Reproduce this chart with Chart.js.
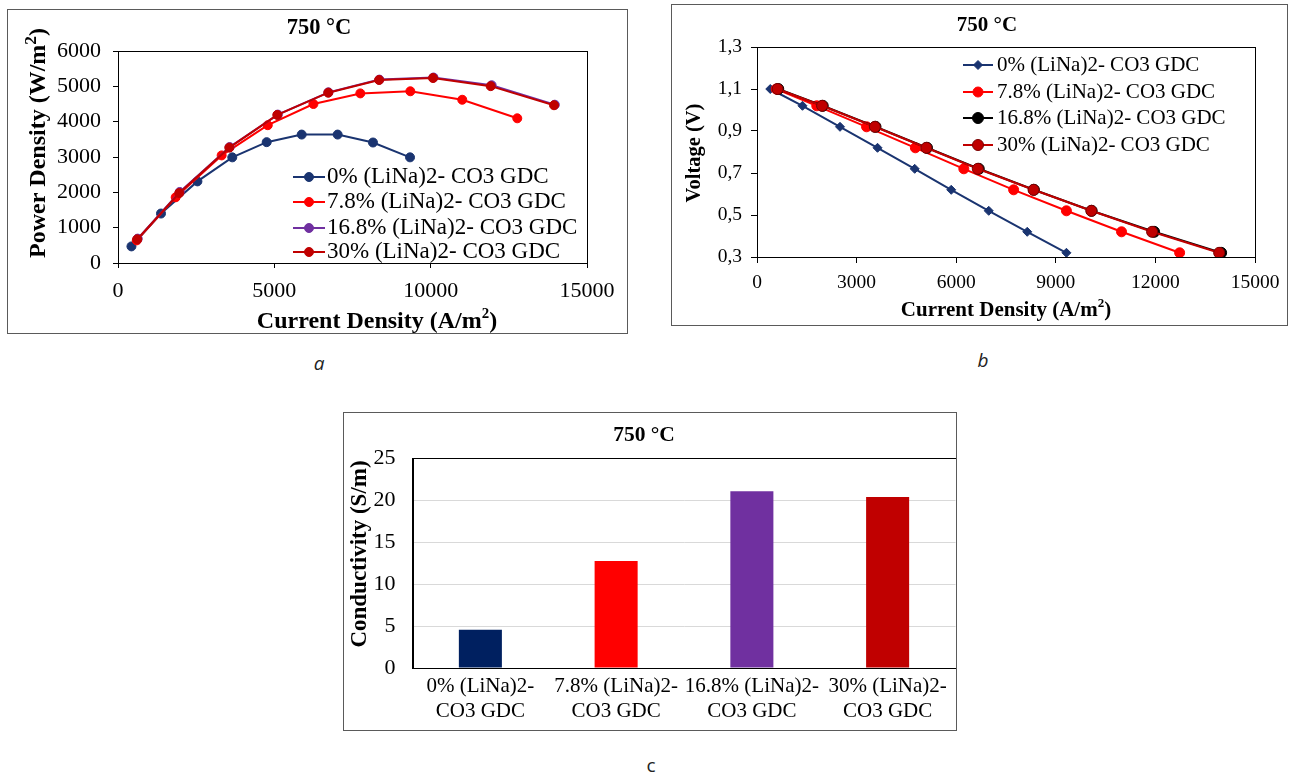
<!DOCTYPE html>
<html><head><meta charset="utf-8">
<script src="https://cdn.jsdelivr.net/npm/chart.js@4.4.0/dist/chart.umd.min.js"></script>
<style>
body{margin:0;background:#fff;width:1290px;height:773px;position:relative;overflow:hidden;}
.frame{position:absolute;border:1px solid #5a5a5a;box-sizing:border-box;background:#fff;}
.frame canvas{display:block;}
.lab{position:absolute;font-family:'Open Sans',sans-serif;font-size:19px;color:#222;transform:translate(-50%,-50%);}
</style></head><body>
<div class="frame" style="left:7px;top:9px;width:621px;height:325px"><canvas id="ca" width="619" height="323"></canvas></div>
<div class="frame" style="left:671px;top:4px;width:617px;height:322px"><canvas id="cb" width="615" height="320"></canvas></div>
<div class="frame" style="left:343px;top:412px;width:614px;height:319px"><canvas id="cc" width="612" height="317"></canvas></div>
<div class="lab" style="left:319px;top:363px;font-style:italic">a</div>
<div class="lab" style="left:983px;top:360px;font-style:italic">b</div>
<div class="lab" style="left:651px;top:765px">c</div>
<script>
// ---------- data ----------
const chartTitle = '750 °C';
const seriesNames = ['0% (LiNa)2- CO3 GDC', '7.8% (LiNa)2- CO3 GDC', '16.8% (LiNa)2- CO3 GDC', '30% (LiNa)2- CO3 GDC'];

// (a) power density vs current density
const pd0_I   = [430, 1375, 2540, 3655, 4755, 5875, 7025, 8155, 9340];
const pd0_P   = [470, 1400, 2310, 2990, 3420, 3635, 3635, 3410, 2990];
const pd78_I  = [600, 1845, 3315, 4790, 6250, 7750, 9350, 11010, 12770];
const pd78_P  = [640, 1860, 3045, 3900, 4500, 4800, 4860, 4620, 4095];
const pd168_I = [630, 1975, 3570, 5110, 6730, 8360, 10090, 11950, 13970];
const pd168_P = [690, 2010, 3280, 4200, 4830, 5190, 5250, 5030, 4480];
const pd30_I  = [615, 1960, 3560, 5095, 6725, 8350, 10075, 11920, 13945];
const pd30_P  = [670, 1980, 3265, 4190, 4820, 5180, 5235, 5005, 4465];
const aXTicks = [0, 5000, 10000, 15000];
const aYTicks = [0, 1000, 2000, 3000, 4000, 5000, 6000];

// (b) voltage vs current density
const v0_I   = [400, 1370, 2500, 3630, 4750, 5850, 6980, 8140, 9320];
const v0_V   = [1.10, 1.02, 0.92, 0.82, 0.72, 0.62, 0.52, 0.42, 0.32];
const v78_I  = [580, 1800, 3300, 4770, 6230, 7730, 9320, 10980, 12730];
const v78_V  = [1.10, 1.02, 0.92, 0.82, 0.72, 0.62, 0.52, 0.42, 0.32];
const v168_I = [640, 1980, 3570, 5120, 6680, 8340, 10080, 11960, 13980];
const v168_V = [1.10, 1.02, 0.92, 0.82, 0.72, 0.62, 0.52, 0.42, 0.32];
const v30_I  = [620, 1960, 3550, 5100, 6650, 8330, 10070, 11900, 13920];
const v30_V  = [1.10, 1.02, 0.92, 0.82, 0.72, 0.62, 0.52, 0.42, 0.32];
const bXTicks = [0, 3000, 6000, 9000, 12000, 15000];
const bYTicks = ['0,3', '0,5', '0,7', '0,9', '1,1', '1,3'];

// (c) conductivity
const cCategories = [['0% (LiNa)2-', 'CO3 GDC'], ['7.8% (LiNa)2-', 'CO3 GDC'], ['16.8% (LiNa)2-', 'CO3 GDC'], ['30% (LiNa)2-', 'CO3 GDC']];
const cValues = [4.55, 12.75, 21.05, 20.35];
const cYTicks = [0, 5, 10, 15, 20, 25];

// ---------- styling ----------
const SERIF = '"Liberation Serif", "Times New Roman", serif';
const NAVY = '#1A3470', RED = '#FF0000', PURPLE = '#7030A0', DKRED = '#C00000', BLACK = '#000000';
const barColors = ['#002060', '#FF0000', '#7030A0', '#C00000'];

function pts(xs, ys) { return xs.map((x, i) => ({ x, y: ys[i] })); }

function drawRich(ctx, it) {
  const base = it.size, supScale = it.supScale || 0.62;
  ctx.save();
  ctx.translate(it.x, it.y);
  if (it.rot) ctx.rotate(it.rot);
  const ms = []; let total = 0;
  for (const p of it.parts) {
    const sz = p.sup ? base * supScale : base;
    ctx.font = (it.bold ? 'bold ' : '') + sz + 'px ' + SERIF;
    const w = ctx.measureText(p.t).width;
    ms.push({ p, sz, w }); total += w;
  }
  let x = -total / 2;
  ctx.textBaseline = 'middle'; ctx.textAlign = 'left'; ctx.fillStyle = '#000';
  for (const m of ms) {
    ctx.font = (it.bold ? 'bold ' : '') + m.sz + 'px ' + SERIF;
    ctx.fillText(m.p.t, x, m.p.sup ? -base * 0.33 : 0);
    x += m.w;
  }
  ctx.restore();
}

function drawMarker(ctx, style, x, y, r, fill, stroke) {
  ctx.beginPath();
  if (style === 'rectRot') {
    ctx.moveTo(x, y - r); ctx.lineTo(x + r, y); ctx.lineTo(x, y + r); ctx.lineTo(x - r, y); ctx.closePath();
  } else {
    ctx.arc(x, y, r, 0, Math.PI * 2);
  }
  ctx.fillStyle = fill; ctx.fill();
  ctx.lineWidth = 1; ctx.strokeStyle = stroke; ctx.stroke();
}

const deco = {
  id: 'deco',
  afterDraw(chart, args, o) {
    const ctx = chart.ctx, a = chart.chartArea;
    ctx.save();
    ctx.strokeStyle = '#000'; ctx.lineWidth = 1;
    ctx.strokeRect(Math.round(a.left) + 0.5, Math.round(a.top) + 0.5, Math.round(a.right - a.left), Math.round(a.bottom - a.top));
    (o.texts || []).forEach(t => drawRich(ctx, t));
    if (o.legend) {
      const L = o.legend;
      chart.data.datasets.forEach((ds, i) => {
        const y = L.rows[i];
        ctx.strokeStyle = ds.borderColor; ctx.lineWidth = ds.borderWidth || 2;
        ctx.beginPath(); ctx.moveTo(L.x0, y); ctx.lineTo(L.x1, y); ctx.stroke();
        drawMarker(ctx, ds.pointStyle, (L.x0 + L.x1) / 2, y, ds.pointRadius, ds.pointBackgroundColor, ds.pointBorderColor);
        ctx.font = L.size + 'px ' + SERIF; ctx.fillStyle = '#000';
        ctx.textBaseline = 'middle'; ctx.textAlign = 'left';
        ctx.fillText(ds.label, L.tx, y);
      });
    }
    ctx.restore();
  }
};

function ds(label, data, color, style, r, border, order) {
  return { label, data, showLine: true, borderColor: color, backgroundColor: color, borderWidth: 2,
    pointStyle: style, pointRadius: r, pointHoverRadius: r, pointBackgroundColor: color,
    pointBorderColor: border || color, pointBorderWidth: 1, order, tension: 0 };
}

function linAxis(min, max, step, labels, fsize, tl, pad, fitKey, fitVal) {
  return {
    type: 'linear', min, max,
    ticks: { stepSize: step, font: { family: SERIF, size: fsize }, color: '#000', padding: pad, maxRotation: 0, autoSkip: false,
      callback: (v, i) => labels[i] !== undefined ? String(labels[i]) : '' },
    grid: { drawOnChartArea: false, drawTicks: true, tickLength: tl, tickColor: '#000', tickWidth: 1 },
    border: { display: true, color: '#000', width: 1 },
    afterFit: s => { s[fitKey] = fitVal; s.paddingLeft = 0; s.paddingRight = 0; s.paddingTop = 0; s.paddingBottom = 0; }
  };
}

const common = { responsive: false, animation: false, devicePixelRatio: 1, events: [] };

// ---------- chart a ----------
new Chart(document.getElementById('ca'), {
  type: 'scatter',
  data: { datasets: [
    ds(seriesNames[0], pts(pd0_I, pd0_P), NAVY, 'circle', 4.5, NAVY, 3),
    ds(seriesNames[1], pts(pd78_I, pd78_P), RED, 'circle', 4.5, RED, 2),
    ds(seriesNames[2], pts(pd168_I, pd168_P), PURPLE, 'circle', 4.5, PURPLE, 1),
    ds(seriesNames[3], pts(pd30_I, pd30_P), DKRED, 'circle', 4.5, DKRED, 0)
  ] },
  options: Object.assign({}, common, {
    layout: { padding: { left: 0, top: 41, right: 40, bottom: 0 } },
    scales: {
      x: linAxis(0, 15000, 5000, aXTicks, 22, 5, 10, 'height', 70),
      y: linAxis(0, 6000, 1000, aYTicks, 22, 5, 12, 'width', 110)
    },
    plugins: {
      legend: { display: false }, tooltip: { enabled: false }, title: { display: false },
      deco: {
        texts: [
          { parts: [{ t: chartTitle }], x: 311, y: 18, size: 22.5, bold: true },
          { parts: [{ t: 'Power Density (W/m' }, { t: '2', sup: true }, { t: ')' }], x: 31, y: 133, size: 24, bold: true, rot: -Math.PI / 2, supScale: 0.72 },
          { parts: [{ t: 'Current Density (A/m' }, { t: '2', sup: true }, { t: ')' }], x: 369, y: 312, size: 24, bold: true }
        ],
        legend: { x0: 285, x1: 317, tx: 319, rows: [167, 192, 218, 242], size: 23 }
      }
    }
  }),
  plugins: [deco]
});

// ---------- chart b ----------
new Chart(document.getElementById('cb'), {
  type: 'scatter',
  data: { datasets: [
    ds(seriesNames[0], pts(v0_I, v0_V), NAVY, 'rectRot', 4.5, NAVY, 3),
    ds(seriesNames[1], pts(v78_I, v78_V), RED, 'circle', 5, RED, 2),
    ds(seriesNames[2], pts(v168_I, v168_V), BLACK, 'circle', 5.5, BLACK, 1),
    ds(seriesNames[3], pts(v30_I, v30_V), DKRED, 'circle', 5.5, '#7a0000', 0)
  ] },
  options: Object.assign({}, common, {
    layout: { padding: { left: 0, top: 42, right: 32, bottom: 0 } },
    scales: {
      x: linAxis(0, 15000, 3000, bXTicks, 19.5, 6, 8, 'height', 68),
      y: linAxis(0.3, 1.3, 0.2, bYTicks, 19.5, 6, 9, 'width', 85)
    },
    plugins: {
      legend: { display: false }, tooltip: { enabled: false }, title: { display: false },
      deco: {
        texts: [
          { parts: [{ t: chartTitle }], x: 315, y: 21, size: 21, bold: true },
          { parts: [{ t: 'Voltage (V)' }], x: 23, y: 148, size: 20.5, bold: true, rot: -Math.PI / 2 },
          { parts: [{ t: 'Current Density (A/m' }, { t: '2', sup: true }, { t: ')' }], x: 334, y: 306, size: 21, bold: true }
        ],
        legend: { x0: 291, x1: 321, tx: 325, rows: [60, 87, 113, 140], size: 21 }
      }
    }
  }),
  plugins: [deco]
});

// ---------- chart c ----------
new Chart(document.getElementById('cc'), {
  type: 'bar',
  data: { labels: cCategories, datasets: [{ data: cValues, backgroundColor: barColors, borderWidth: 0, barPercentage: 0.317, categoryPercentage: 1.0 }] },
  options: Object.assign({}, common, {
    layout: { padding: { left: 0, top: 45, right: 0.5, bottom: 0 } },
    scales: {
      x: {
        ticks: { font: { family: SERIF, size: 21, lineHeight: 1.2 }, color: '#000', padding: 6, maxRotation: 0, autoSkip: false },
        grid: { display: false, drawTicks: false },
        border: { display: true, color: '#000', width: 1 },
        afterFit: s => { s.height = 62; s.paddingLeft = 0; s.paddingRight = 0; }
      },
      y: {
        min: 0, max: 25,
        ticks: { stepSize: 5, font: { family: SERIF, size: 22 }, color: '#000', padding: 17,
          callback: (v, i) => cYTicks[i] !== undefined ? String(cYTicks[i]) : '' },
        grid: { color: '#d9d9d9', lineWidth: 1, drawTicks: false },
        border: { display: true, color: '#000', width: 1 },
        afterFit: s => { s.width = 68.5; s.paddingTop = 0; s.paddingBottom = 0; }
      }
    },
    plugins: {
      legend: { display: false }, tooltip: { enabled: false }, title: { display: false },
      deco: {
        texts: [
          { parts: [{ t: chartTitle }], x: 300, y: 22, size: 21.5, bold: true },
          { parts: [{ t: 'Conductivity (S/m)' }], x: 16, y: 141, size: 23, bold: true, rot: -Math.PI / 2 }
        ]
      }
    }
  }),
  plugins: [deco]
});
</script>
</body></html>
